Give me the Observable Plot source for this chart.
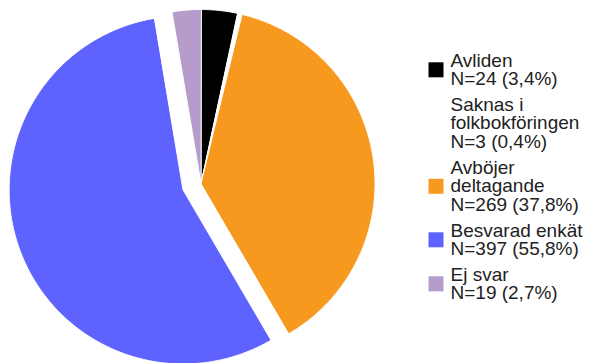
<!DOCTYPE html>
<html>
<head>
<meta charset="utf-8">
<script src="https://cdn.jsdelivr.net/npm/d3@7"></script>
<script src="https://cdn.jsdelivr.net/npm/@observablehq/plot@0.6"></script>
<style>
  html, body { margin: 0; padding: 0; background: #fff; }
  #chart { width: 590px; height: 363px; }
</style>
</head>
<body>
<div id="chart"></div>
<script>
// ---- data ----
const categories = ["Avliden", "Saknas i folkbokföringen", "Avböjer deltagande", "Besvarad enkät", "Ej svar"];
const legendLabels = ["Avliden", "Saknas i\nfolkbokföringen", "Avböjer\ndeltagande", "Besvarad enkät", "Ej svar"];
const counts = [24, 3, 269, 397, 19];
const colors = ["#000000", "#ffffff", "#f7991f", "#5e63ff", "#b69ccb"];
const explodedCategory = "Besvarad enkät";

// ---- layout ----
const W = 590, H = 363;
const cx = 200.5, cy = 183, R = 174, explodeDist = 19;
const fontSize = 19, lineStep = 19, itemGap = 6;
const legendTextX = 450, swatchX = 435.5, legendTop = 52.5, swatchSide = 15;

const total = d3.sum(counts);
const fmtPct = v => (v / total * 100).toFixed(1).replace(".", ",");

// pie slices as closed polygons
const pieSlices = [];
let acc = 0;
categories.forEach((cat, i) => {
  const a0 = acc / total * 2 * Math.PI;
  acc += counts[i];
  const a1 = acc / total * 2 * Math.PI;
  const mid = (a0 + a1) / 2;
  const off = cat === explodedCategory ? explodeDist : 0;
  const ox = cx + off * Math.sin(mid), oy = cy - off * Math.cos(mid);
  pieSlices.push({cat, color: colors[i], x: ox, y: oy});
  const n = Math.max(2, Math.ceil((a1 - a0) / (Math.PI / 360)));
  for (let k = 0; k <= n; k++) {
    const a = a0 + (a1 - a0) * k / n;
    pieSlices.push({cat, color: colors[i], x: ox + R * Math.sin(a), y: oy - R * Math.cos(a)});
  }
});

// legend items
const legendItems = [];
let ly = legendTop;
categories.forEach((cat, i) => {
  const text = legendLabels[i] + "\nN=" + counts[i] + " (" + fmtPct(counts[i]) + "%)";
  const nLines = text.split("\n").length;
  const blockH = (nLines - 1) * lineStep + fontSize * 0.716;
  legendItems.push({cat, color: colors[i], text, y: ly, sy: ly + blockH / 2 + 0.5});
  ly += nLines * lineStep + itemGap;
});

const chart = Plot.plot({
  width: W,
  height: H,
  margin: 0,
  x: {domain: [0, W], range: [0, W], axis: null},
  y: {domain: [0, H], range: [0, H], axis: null},
  color: {type: "identity"},
  style: {fontFamily: "'Liberation Sans', Arial, sans-serif", background: "#fff"},
  marks: [
    Plot.line(pieSlices, {x: "x", y: "y", z: "cat", fill: "color", stroke: "#ffffff", strokeWidth: 1, curve: "linear-closed"}),
    Plot.dot(legendItems, {x: swatchX, y: "sy", symbol: "square", r: swatchSide / Math.sqrt(Math.PI), fill: "color", stroke: null}),
    Plot.text(legendItems, {x: legendTextX, y: "y", text: "text", textAnchor: "start", lineAnchor: "top", fontSize: fontSize, lineHeight: lineStep / fontSize, fill: "#222"})
  ]
});
document.getElementById("chart").appendChild(chart);
</script>
</body>
</html>
